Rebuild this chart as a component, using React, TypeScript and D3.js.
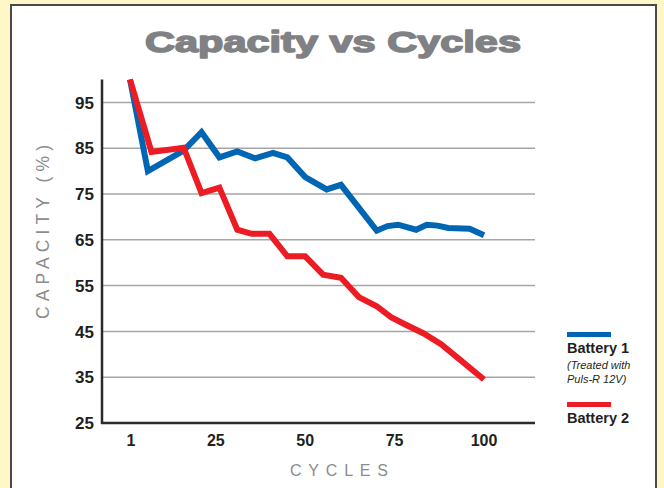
import React from "react";
import * as d3 from "d3";

const battery1Cycles = [1, 6, 16, 21, 26, 31, 36, 41, 45, 50, 56, 60, 70, 73, 76, 81, 84, 87, 90, 96, 100];
const battery1Values = [100, 80, 84.5, 88.5, 83, 84.3, 82.8, 84, 83, 78.7, 76, 77, 67, 68, 68.3, 67.2, 68.3, 68.1, 67.6, 67.4, 66];

const battery2Cycles = [1, 7, 16, 21, 26, 31, 35, 40, 45, 50, 55, 60, 65, 70, 74, 78, 83, 88, 93, 100];
const battery2Values = [100, 84.2, 85.1, 75.2, 76.4, 67.2, 66.3, 66.3, 61.4, 61.4, 57.4, 56.7, 52.5, 50.5, 48.1, 46.5, 44.6, 42.2, 39.0, 34.5];

const xTicks = [1, 25, 50, 75, 100];
const yTicks = [25, 35, 45, 55, 65, 75, 85, 95];

const W = 664;
const H = 488;

export default function App() {
  const x = d3.scaleLinear().domain([1, 100]).range([130, 484]);
  const y = d3.scaleLinear().domain([25, 100]).range([423, 79.5]);
  const axisLeft = 102;
  const axisRight = 535;

  const line = d3
    .line<[number, number]>()
    .x((d) => x(d[0]))
    .y((d) => y(d[1]))
    .curve(d3.curveLinear);

  const s1 = battery1Cycles.map((c, i) => [c, battery1Values[i]] as [number, number]);
  const s2 = battery2Cycles.map((c, i) => [c, battery2Values[i]] as [number, number]);

  const font = "'Liberation Sans', Arial, Helvetica, sans-serif";
  const dark = "#231f20";

  return (
    <svg
      width={W}
      height={H}
      style={{ position: "absolute", left: 0, top: 0, display: "block" }}
      fontFamily={font}
    >
      <rect x={0} y={0} width={W} height={H} fill="#fff8c6" />
      <rect x={11} y={5} width={645} height={500} fill="#ffffff" stroke="#4a4a4a" strokeWidth={2} />

      <text
        x={333}
        y={52}
        textAnchor="middle"
        fontSize={30}
        fontWeight="bold"
        fill="#808184"
        stroke="#808184"
        strokeWidth={1.6}
        strokeLinejoin="round"
        textLength={376}
        lengthAdjust="spacingAndGlyphs"
      >
        Capacity vs Cycles
      </text>

      {/* gridlines */}
      {yTicks
        .filter((t) => t !== 25)
        .map((t) => (
          <line
            key={"g" + t}
            x1={axisLeft}
            x2={axisRight}
            y1={y(t)}
            y2={y(t)}
            stroke="#a6a6a6"
            strokeWidth={1.5}
          />
        ))}

      {/* axes */}
      <line x1={axisLeft} x2={axisLeft} y1={y(100)} y2={y(25) + 1} stroke="#2b2b2b" strokeWidth={2.5} />
      <line x1={axisLeft - 1} x2={axisRight} y1={y(25)} y2={y(25)} stroke="#2b2b2b" strokeWidth={2.5} />

      {/* y tick labels */}
      {yTicks.map((t) => (
        <text
          key={"y" + t}
          x={94}
          y={y(t)}
          dy="0.36em"
          textAnchor="end"
          fontSize={17}
          fontWeight="bold"
          fill={dark}
        >
          {t}
        </text>
      ))}

      {/* x tick labels */}
      {xTicks.map((t) => (
        <text
          key={"x" + t}
          x={x(t) + (t === 1 ? 1 : 0)}
          y={446}
          textAnchor="middle"
          fontSize={16}
          fontWeight="bold"
          fill={dark}
        >
          {t}
        </text>
      ))}

      {/* axis titles */}
      <text
        x={339}
        y={476}
        textAnchor="middle"
        fontSize={16}
        fill="#8c8c8c"
        textLength={98}
        lengthAdjust="spacing"
      >
        CYCLES
      </text>
      <text
        transform={`translate(49, 232) rotate(-90)`}
        textAnchor="middle"
        fontSize={17.5}
        fill="#8c8c8c"
        textLength={174}
        lengthAdjust="spacing"
      >
        CAPACITY (%)
      </text>

      {/* series */}
      <path d={line(s1) || ""} fill="none" stroke="#0066b3" strokeWidth={6} strokeLinejoin="miter" strokeMiterlimit={3} />
      <path d={line(s2) || ""} fill="none" stroke="#ed1c24" strokeWidth={6} strokeLinejoin="miter" strokeMiterlimit={3} />

      {/* legend */}
      <rect x={567} y={332} width={44} height={5} fill="#0066b3" />
      <text x={567} y={353} fontSize={14.5} fontWeight="600" fill={dark}>
        Battery 1
      </text>
      <text x={567} y={369} fontSize={11} fontStyle="italic" fill={dark}>
        (Treated with
      </text>
      <text x={567} y={383} fontSize={11} fontStyle="italic" fill={dark}>
        Puls-R 12V)
      </text>
      <rect x={567} y={402} width={44} height={5} fill="#ed1c24" />
      <text x={567} y={423} fontSize={14.5} fontWeight="600" fill={dark}>
        Battery 2
      </text>
    </svg>
  );
}
